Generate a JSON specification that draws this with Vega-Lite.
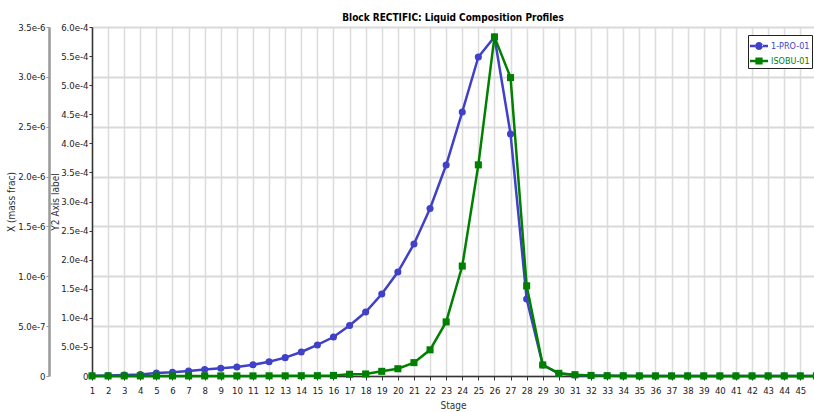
{
  "$schema": "https://vega.github.io/schema/vega-lite/v6.json",
  "width": 722,
  "height": 349,
  "autosize": {"type": "none"},
  "padding": {"left": 92, "top": 27, "right": 0, "bottom": 36},
  "background": "white",
  "config": {
    "font": "Liberation Sans Narrow, DejaVu Sans Condensed, sans-serif",
    "view": {"stroke": null}
  },
  "title": {"text": "Block RECTIFIC: Liquid Composition Profiles", "fontSize": 10, "fontWeight": "bold", "color": "#000", "offset": -1, "anchor": "middle"},
  "data": {"values": [
    {"stage":1,"series":"1-PRO-01","value":3e-9},{"stage":2,"series":"1-PRO-01","value":5e-9},{"stage":3,"series":"1-PRO-01","value":1e-8},{"stage":4,"series":"1-PRO-01","value":1.5e-8},{"stage":5,"series":"1-PRO-01","value":3.0e-8},{"stage":6,"series":"1-PRO-01","value":3.8e-8},{"stage":7,"series":"1-PRO-01","value":5.0e-8},{"stage":8,"series":"1-PRO-01","value":6.4e-8},{"stage":9,"series":"1-PRO-01","value":7.7e-8},{"stage":10,"series":"1-PRO-01","value":9.0e-8},
    {"stage":11,"series":"1-PRO-01","value":1.12e-7},{"stage":12,"series":"1-PRO-01","value":1.43e-7},{"stage":13,"series":"1-PRO-01","value":1.84e-7},{"stage":14,"series":"1-PRO-01","value":2.41e-7},{"stage":15,"series":"1-PRO-01","value":3.11e-7},{"stage":16,"series":"1-PRO-01","value":3.91e-7},{"stage":17,"series":"1-PRO-01","value":5.06e-7},{"stage":18,"series":"1-PRO-01","value":6.42e-7},{"stage":19,"series":"1-PRO-01","value":8.22e-7},{"stage":20,"series":"1-PRO-01","value":1.043e-6},
    {"stage":21,"series":"1-PRO-01","value":1.324e-6},{"stage":22,"series":"1-PRO-01","value":1.68e-6},{"stage":23,"series":"1-PRO-01","value":2.116e-6},{"stage":24,"series":"1-PRO-01","value":2.648e-6},{"stage":25,"series":"1-PRO-01","value":3.199e-6},{"stage":26,"series":"1-PRO-01","value":3.40e-6},{"stage":27,"series":"1-PRO-01","value":2.427e-6},{"stage":28,"series":"1-PRO-01","value":7.72e-7},{"stage":29,"series":"1-PRO-01","value":1.1e-7},{"stage":30,"series":"1-PRO-01","value":2.5e-8},
    {"stage":31,"series":"1-PRO-01","value":1e-8},{"stage":32,"series":"1-PRO-01","value":5e-9},{"stage":33,"series":"1-PRO-01","value":2e-9},{"stage":34,"series":"1-PRO-01","value":1e-9},{"stage":35,"series":"1-PRO-01","value":0},{"stage":36,"series":"1-PRO-01","value":0},{"stage":37,"series":"1-PRO-01","value":0},{"stage":38,"series":"1-PRO-01","value":0},{"stage":39,"series":"1-PRO-01","value":0},{"stage":40,"series":"1-PRO-01","value":0},
    {"stage":41,"series":"1-PRO-01","value":0},{"stage":42,"series":"1-PRO-01","value":0},{"stage":43,"series":"1-PRO-01","value":0},{"stage":44,"series":"1-PRO-01","value":0},{"stage":45,"series":"1-PRO-01","value":0},{"stage":46,"series":"1-PRO-01","value":0},
    {"stage":1,"series":"ISOBU-01","value":2e-7},{"stage":2,"series":"ISOBU-01","value":2e-7},{"stage":3,"series":"ISOBU-01","value":2e-7},{"stage":4,"series":"ISOBU-01","value":2e-7},{"stage":5,"series":"ISOBU-01","value":2e-7},{"stage":6,"series":"ISOBU-01","value":2e-7},{"stage":7,"series":"ISOBU-01","value":2e-7},{"stage":8,"series":"ISOBU-01","value":2e-7},{"stage":9,"series":"ISOBU-01","value":2e-7},{"stage":10,"series":"ISOBU-01","value":2e-7},
    {"stage":11,"series":"ISOBU-01","value":2e-7},{"stage":12,"series":"ISOBU-01","value":3e-7},{"stage":13,"series":"ISOBU-01","value":3e-7},{"stage":14,"series":"ISOBU-01","value":5e-7},{"stage":15,"series":"ISOBU-01","value":6e-7},{"stage":16,"series":"ISOBU-01","value":1.0e-6},{"stage":17,"series":"ISOBU-01","value":3.0e-6},{"stage":18,"series":"ISOBU-01","value":3.5e-6},{"stage":19,"series":"ISOBU-01","value":8.0e-6},{"stage":20,"series":"ISOBU-01","value":1.25e-5},
    {"stage":21,"series":"ISOBU-01","value":2.3e-5},{"stage":22,"series":"ISOBU-01","value":4.5e-5},{"stage":23,"series":"ISOBU-01","value":9.3e-5},{"stage":24,"series":"ISOBU-01","value":1.89e-4},{"stage":25,"series":"ISOBU-01","value":3.63e-4},{"stage":26,"series":"ISOBU-01","value":5.83e-4},{"stage":27,"series":"ISOBU-01","value":5.13e-4},{"stage":28,"series":"ISOBU-01","value":1.55e-4},{"stage":29,"series":"ISOBU-01","value":1.9e-5},{"stage":30,"series":"ISOBU-01","value":4.6e-6},
    {"stage":31,"series":"ISOBU-01","value":2.2e-6},{"stage":32,"series":"ISOBU-01","value":1.0e-6},{"stage":33,"series":"ISOBU-01","value":5e-7},{"stage":34,"series":"ISOBU-01","value":3e-7},{"stage":35,"series":"ISOBU-01","value":2e-7},{"stage":36,"series":"ISOBU-01","value":2e-7},{"stage":37,"series":"ISOBU-01","value":2e-7},{"stage":38,"series":"ISOBU-01","value":2e-7},{"stage":39,"series":"ISOBU-01","value":2e-7},{"stage":40,"series":"ISOBU-01","value":2e-7},
    {"stage":41,"series":"ISOBU-01","value":2e-7},{"stage":42,"series":"ISOBU-01","value":2e-7},{"stage":43,"series":"ISOBU-01","value":2e-7},{"stage":44,"series":"ISOBU-01","value":2e-7},{"stage":45,"series":"ISOBU-01","value":2e-7},{"stage":46,"series":"ISOBU-01","value":2e-7}
  ]},
  "encoding": {
    "x": {
      "field": "stage", "type": "quantitative",
      "scale": {"domain": [1, 45.85], "nice": false, "zero": false},
      "axis": {
        "values": [1,2,3,4,5,6,7,8,9,10,11,12,13,14,15,16,17,18,19,20,21,22,23,24,25,26,27,28,29,30,31,32,33,34,35,36,37,38,39,40,41,42,43,44,45],
        "title": "Stage", "titleFontSize": 10, "titleFontWeight": "normal", "titleColor": "#333", "titlePadding": 6,
        "labelFontSize": 9.5, "labelColor": "#222", "labelPadding": 5, "labelOverlap": false, "labelFlush": false,
        "tickSize": 4, "tickColor": "#333", "domainColor": "#333", "domainWidth": 1.5,
        "grid": true, "gridColor": "#dcdcdc", "gridWidth": 1.5
      }
    },
    "color": {
      "field": "series", "type": "nominal",
      "scale": {"domain": ["1-PRO-01", "ISOBU-01"], "range": ["#4040c8", "#008000"]},
      "legend": {
        "orient": "none", "legendX": 656, "legendY": 8, "title": null,
        "strokeColor": "#222", "fillColor": "white", "padding": 2,
        "symbolSize": 324, "symbolOpacity": 1, "symbolStrokeWidth": 0,
        "labelFontSize": 9, "labelOffset": 3, "rowPadding": 1,
        "encode": {"labels": {"update": {"fill": {"scale": "color", "field": "value"}}}}
      }
    }
  },
  "layer": [
    {
      "transform": [{"filter": "datum.series == '1-PRO-01'"}],
      "encoding": {
        "y": {
          "field": "value", "type": "quantitative",
          "scale": {"domain": [0, 3.5e-6], "nice": false},
          "axis": {
            "orient": "left", "offset": 43,
            "values": [0, 5e-7, 1e-6, 1.5e-6, 2e-6, 2.5e-6, 3e-6, 3.5e-6],
            "labelExpr": "datum.value == 0 ? '0' : format(datum.value, '.1e')",
            "title": "X (mass frac)", "titleFontSize": 10, "titleFontWeight": "normal", "titleColor": "#333", "titlePadding": 1,
            "labelFontSize": 9.5, "labelColor": "#222", "labelPadding": 1,
            "tickSize": 3, "tickColor": "#999", "domainColor": "#999", "domainWidth": 2.5,
            "grid": true, "gridColor": "#d9d9d9", "gridWidth": 2
          }
        }
      },
      "layer": [
        {"mark": {"type": "line", "strokeWidth": 2.5}},
        {"mark": {"type": "circle", "size": 50, "opacity": 1}}
      ]
    },
    {
      "transform": [{"filter": "datum.series == 'ISOBU-01'"}],
      "encoding": {
        "y": {
          "field": "value", "type": "quantitative",
          "scale": {"domain": [0, 6e-4], "nice": false},
          "axis": {
            "orient": "left", "offset": 0,
            "values": [0, 5e-5, 1e-4, 1.5e-4, 2e-4, 2.5e-4, 3e-4, 3.5e-4, 4e-4, 4.5e-4, 5e-4, 5.5e-4, 6e-4],
            "labelExpr": "datum.value == 0 ? '0' : format(datum.value, '.1e')",
            "title": "Y2 Axis label", "titleFontSize": 10, "titleFontWeight": "normal", "titleColor": "#333", "titlePadding": 0,
            "labelFontSize": 9.5, "labelColor": "#222", "labelPadding": 1,
            "tickSize": 3, "tickColor": "#333", "domainColor": "#333", "domainWidth": 1.5,
            "grid": false
          }
        }
      },
      "layer": [
        {"mark": {"type": "line", "strokeWidth": 2.5}},
        {"mark": {"type": "square", "size": 50, "opacity": 1}}
      ]
    },
    {
      "mark": {"type": "point", "filled": true, "opacity": 0},
      "encoding": {
        "y": {"field": "value", "type": "quantitative", "axis": null},
        "shape": {
          "field": "series", "type": "nominal",
          "scale": {"domain": ["1-PRO-01", "ISOBU-01"], "range": [
            "M-1,-0.14H-0.44V0.14H-1Z M0.44,-0.14H1V0.14H0.44Z M-0.44,0A0.44,0.44 0 1,0 0.44,0A0.44,0.44 0 1,0 -0.44,0Z",
            "M-1,-0.14H-0.4V0.14H-1Z M0.4,-0.14H1V0.14H0.4Z M-0.4,-0.4H0.4V0.4H-0.4Z"
          ]},
          "legend": {
            "orient": "none", "legendX": 656, "legendY": 8, "title": null,
            "strokeColor": "#222", "fillColor": "white", "padding": 2,
            "symbolSize": 324, "symbolOpacity": 1, "symbolStrokeWidth": 0,
            "labelFontSize": 9, "labelOffset": 3, "rowPadding": 1,
            "encode": {"labels": {"update": {"fill": {"scale": "color", "field": "value"}}}}
          }
        }
      }
    }
  ],
  "resolve": {"scale": {"y": "independent"}}
}
